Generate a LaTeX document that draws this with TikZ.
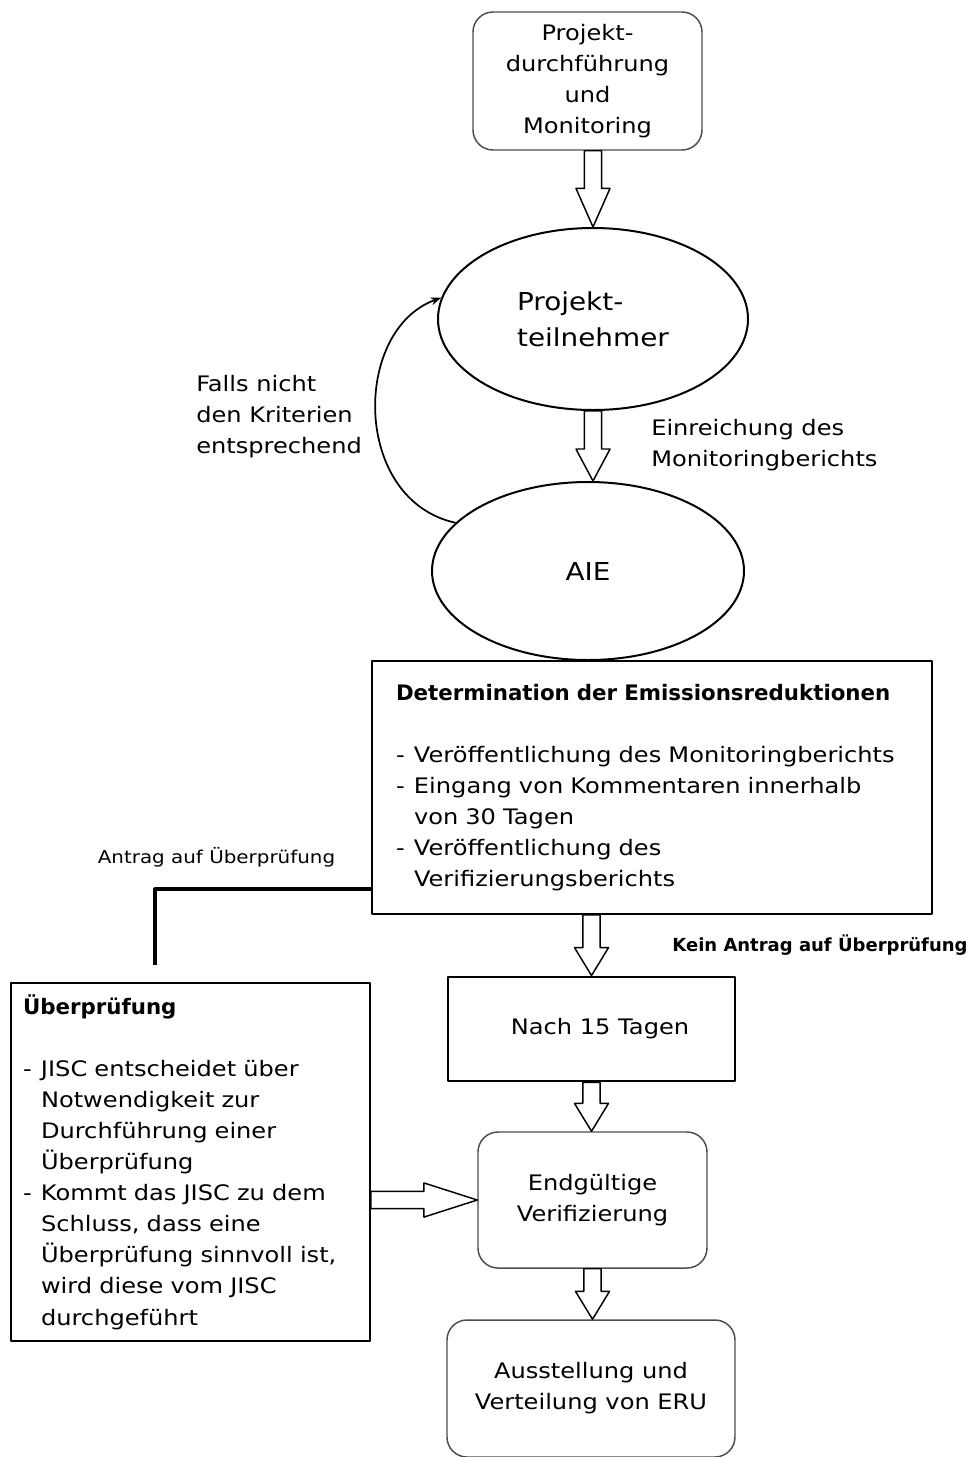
\documentclass[tikz,border=0pt]{standalone}
\usepackage{fontspec}
\setmainfont[FakeStretch=1.13, BoldFeatures={FakeStretch=1.0}]{DejaVu Sans}
\usetikzlibrary{arrows.meta,calc,positioning,shapes.geometric}

\newcommand{\boxfont}{\fontsize{16}{23.3}\selectfont}
\newcommand{\bigfont}{\fontsize{18.5}{27}\selectfont}
\newcommand{\notefont}{\fontsize{13.2}{18}\selectfont}
\newcommand{\itemdash}{\makebox[13.5pt][l]{-}}
\newcommand{\itemgap}{\hspace*{13.5pt}}

% hollow block arrow: from, to, head length
\newcommand{\fatarrow}[3]{%
    \path (#1) coordinate (fa-s) (#2) coordinate (fa-t);
    \coordinate (fa-h) at ($(fa-t)!#3!(fa-s)$);
    \draw[fatline]
        ($(fa-s)!6.4pt!90:(fa-t)$) --
        ($(fa-h)!6.4pt!90:(fa-t)$) --
        ($(fa-h)!12.8pt!90:(fa-t)$) --
        (fa-t) --
        ($(fa-h)!12.8pt!-90:(fa-t)$) --
        ($(fa-h)!6.4pt!-90:(fa-t)$) --
        ($(fa-s)!6.4pt!-90:(fa-t)$) -- cycle;
}

\begin{document}
\begin{tikzpicture}[
    x=0.75pt, y=-0.75pt,
    line join=round,
    >=Latex,
    roundbox/.style={draw=black!70, line width=1.1pt, rounded corners=15pt,
        align=center, font=\boxfont},
    plainbox/.style={draw, line width=1.5pt, font=\boxfont},
    oval/.style={ellipse, draw, line width=1.5pt, align=left, font=\bigfont},
    note/.style={align=left, font=\boxfont, inner sep=0pt},
    smallnote/.style={font=\notefont, inner sep=0pt},
    fatline/.style={draw, fill=white, line width=1.1pt},
    loop/.style={-{Stealth[length=8pt,width=6pt]}, line width=1.3pt},
    request/.style={line width=2.4pt}
]
\useasboundingbox (0,0) rectangle (973,1457);

% -------------------------------------------------
% Main column
% -------------------------------------------------
\node[roundbox, minimum width=171.75pt, minimum height=103.5pt] (durch)
    at (587.5,81) {Projekt-\\durchführung\\und\\Monitoring};

\node[oval, minimum width=232.5pt, minimum height=136.5pt] (teiln)
    at (593,319) {Projekt-\\teilnehmer};

\node[oval, minimum width=234pt, minimum height=133.5pt] (aie)
    at (588,571) {AIE};

\node[plainbox, minimum height=189.75pt, text width=384pt, inner xsep=18pt,
      align=left] (det) at (652,787.5)
    {\mbox{\textbf{Determination der Emissionsreduktionen}}\\[23.3pt]
     \itemdash Veröffentlichung des Monitoringberichts\\
     \itemdash Eingang von Kommentaren innerhalb\\
     \itemgap von 30 Tagen\\
     \itemdash Veröffentlichung des\\
     \itemgap Verifizierungsberichts};

\node[plainbox, line width=2.2pt, minimum width=215.25pt, minimum height=78pt]
    (nach) at (591.5,1029) {\hspace*{12.75pt}Nach 15 Tagen};

\node[roundbox, minimum width=171.75pt, minimum height=102pt] (endg)
    at (592.5,1200) {Endgültige\\Verifizierung};

\node[roundbox, minimum width=216pt, minimum height=102.75pt] (ausst)
    at (591,1388.5) {Ausstellung und\\Verteilung von ERU};

% -------------------------------------------------
% Review box
% -------------------------------------------------
\node[plainbox, minimum height=268.5pt, text width=251.25pt, inner xsep=9pt,
      align=left] (ueb) at (190.5,1162)
    {\textbf{Überprüfung}\\[23.3pt]
     \itemdash JISC entscheidet über\\
     \itemgap Notwendigkeit zur\\
     \itemgap Durchführung einer\\
     \itemgap Überprüfung\\
     \itemdash Kommt das JISC zu dem\\
     \itemgap Schluss, dass eine\\
     \itemgap Überprüfung sinnvoll ist,\\
     \itemgap wird diese vom JISC\\
     \itemgap durchgeführt};

% -------------------------------------------------
% Labels
% -------------------------------------------------
\node[note, anchor=west] (einr) at (651,445.5)
    {Einreichung des\\Monitoringberichts};
\node[note, anchor=west] (falls) at (196,417)
    {Falls nicht\\den Kriterien\\entsprechend};
\node[smallnote] (antrag) at (216.5,857) {Antrag auf Überprüfung};
\node[smallnote, font=\fontsize{13.5}{17}\selectfont\bfseries] (kein)
    at (820,945) {Kein Antrag auf Überprüfung};

% -------------------------------------------------
% Arrows
% -------------------------------------------------
\fatarrow{teiln.north |- durch.south}{teiln.north}{29pt}
\fatarrow{teiln.south}{teiln.south |- aie.north}{24pt}
\fatarrow{det.south -| nach.north}{nach.north}{21pt}
\fatarrow{nach.south}{nach.south |- endg.north}{21pt}
\fatarrow{endg.south}{endg.south |- ausst.north}{21pt}
\fatarrow{ueb.east |- endg.west}{endg.west}{40pt}

% loop back to the participants
\draw[loop] (aie.160)
    .. controls (352,500) and (352,330) .. (teiln.172);

% request for review
\coordinate (antragend) at (155,965);
\draw[request] ($(det.south west)+(0,-26)$) -| (antragend);

\end{tikzpicture}
\end{document}
